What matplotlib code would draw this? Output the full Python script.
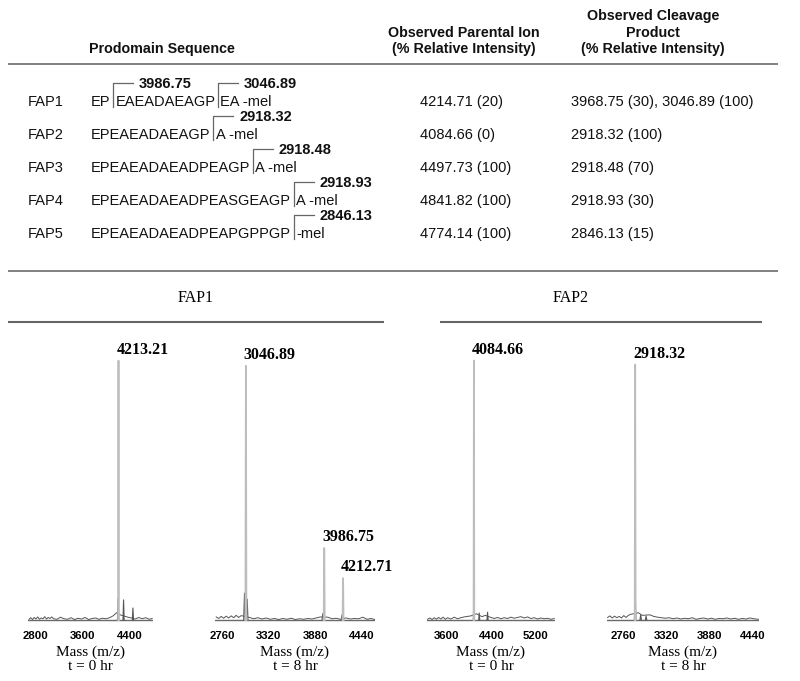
import matplotlib
matplotlib.use('Agg')
import matplotlib.pyplot as plt

W, H = 800, 681
SANS = 'Liberation Sans'
SERIF = 'Liberation Serif'

# ---------------- table data ----------------
row_names = ['FAP1', 'FAP2', 'FAP3', 'FAP4', 'FAP5']
seq_segments = [
    ['EP', 'EAEADAEAGP', 'EA -mel'],
    ['EPEAEADAEAGP', 'A -mel'],
    ['EPEAEADAEADPEAGP', 'A -mel'],
    ['EPEAEADAEADPEASGEAGP', 'A -mel'],
    ['EPEAEADAEADPEAPGPPGP', '-mel'],
]
cut_labels = [
    ['3986.75', '3046.89'],
    ['2918.32'],
    ['2918.48'],
    ['2918.93'],
    ['2846.13'],
]
parental_ion = ['4214.71 (20)', '4084.66 (0)', '4497.73 (100)', '4841.82 (100)', '4774.14 (100)']
cleavage_product = ['3968.75 (30), 3046.89 (100)', '2918.32 (100)', '2918.48 (70)',
                    '2918.93 (30)', '2846.13 (15)']

# ---------------- spectra data ----------------
panel_titles = ['FAP1', 'FAP2']
time_labels = ['t = 0 hr', 't = 8 hr', 't = 0 hr', 't = 8 hr']
xlims = [(2663, 4804), (2676, 4596), (3240, 5544), (2552, 4528)]
xticks = [[2800, 3600, 4400], [2760, 3320, 3880, 4440], [3600, 4400, 5200], [2760, 3320, 3880, 4440]]

# labelled main peaks (m/z, relative intensity)
main_mz = [[4213.21], [3046.89, 3986.75, 4212.71], [4084.66], [2918.32]]
main_int = [[99], [97, 27.5, 16], [99], [97.5]]
main_lbl = [['4213.21'], ['3046.89', '3986.75', '4212.71'], ['4084.66'], ['2918.32']]

# minor peaks near the base
minor_mz = [[4205, 4300, 4460], [3030, 3062, 3970, 4200], [4084, 4180, 4330], [2918, 2990, 3060]]
minor_int = [[8.5, 7.7, 4.6], [10.3, 8.0, 2.5, 2.0], [7.7, 2.7, 3.0], [10.7, 2.0, 1.5]]

# baseline noise
noise_mz = [
    [2680, 2710, 2740, 2770, 2800, 2830, 2860, 2890, 2920, 2950, 2980, 3010, 3040, 3070, 3100,
     3160, 3220, 3280, 3340, 3400, 3460, 3520, 3580, 3640, 3700, 3760, 3820, 3880, 3940, 4000,
     4060, 4120, 4180, 4240, 4330, 4390, 4440, 4500, 4560, 4620, 4680, 4740, 4790],
    [2690, 2720, 2750, 2780, 2810, 2840, 2870, 2900, 2930, 2960, 2990, 3090, 3140, 3190, 3240,
     3290, 3340, 3390, 3440, 3490, 3540, 3590, 3640, 3690, 3740, 3790, 3840, 3890, 3940, 4030,
     4080, 4130, 4180, 4250, 4300, 4350, 4400, 4450, 4500, 4550, 4590],
    [3250, 3290, 3330, 3370, 3410, 3450, 3490, 3530, 3570, 3610, 3670, 3730, 3790, 3850, 3910,
     3970, 4030, 4130, 4230, 4290, 4390, 4450, 4510, 4570, 4630, 4690, 4750, 4810, 4870, 4930,
     4990, 5050, 5110, 5170, 5230, 5290, 5350, 5410, 5470, 5530],
    [2560, 2590, 2620, 2650, 2680, 2710, 2740, 2770, 2800, 2830, 2860, 2960, 3010, 3110, 3160,
     3210, 3260, 3310, 3360, 3410, 3460, 3510, 3560, 3610, 3660, 3710, 3760, 3810, 3860, 3910,
     3960, 4010, 4060, 4110, 4160, 4210, 4260, 4310, 4360, 4410, 4460, 4520],
]
noise_int = [
    [0.3, 0.9, 0.2, 1.0, 0.4, 1.2, 0.3, 0.8, 0.5, 1.3, 0.4, 1.0, 0.6, 1.2, 0.5,
     0.3, 1.1, 0.5, 0.3, 0.9, 0.2, 0.7, 0.4, 1.0, 0.2, 0.6, 0.8, 0.3, 0.7, 0.5,
     0.9, 1.6, 2.8, 2.0, 1.4, 1.0, 0.8, 0.4, 1.0, 0.5, 0.9, 0.3, 0.6],
    [1.2, 0.6, 1.4, 0.7, 1.5, 0.8, 1.6, 0.9, 1.8, 1.0, 1.7, 1.0, 0.5, 0.9, 0.4,
     0.8, 0.3, 0.6, 0.2, 0.6, 0.3, 0.7, 0.2, 0.5, 0.3, 0.6, 0.4, 0.8, 1.2, 1.1,
     0.5, 0.7, 0.3, 0.8, 0.4, 0.6, 0.5, 1.1, 0.3, 0.6, 0.2],
    [0.3, 0.8, 0.2, 0.9, 0.3, 1.0, 0.4, 1.1, 0.3, 0.9, 0.4, 1.1, 0.5, 0.9, 1.2,
     1.4, 1.6, 2.4, 1.3, 1.8, 1.0, 0.6, 1.0, 0.5, 0.9, 0.6, 1.1, 0.7, 1.0, 1.3,
     0.8, 1.2, 0.6, 0.9, 0.4, 0.8, 0.5, 0.7, 0.3, 0.6],
    [1.0, 1.6, 0.8, 1.5, 0.9, 1.4, 0.8, 1.7, 1.0, 1.8, 2.2, 2.8, 1.8, 2.0, 1.4,
     1.1, 0.9, 0.7, 0.9, 0.5, 0.8, 0.4, 0.7, 0.5, 0.9, 0.3, 0.6, 0.8, 0.4, 0.7,
     0.3, 0.6, 0.5, 0.8, 0.4, 0.7, 0.3, 0.6, 0.4, 0.8, 0.5, 0.3],
]

# ---------------- figure ----------------
fig = plt.figure(figsize=(W / 100, H / 100), dpi=100)
tax = fig.add_axes([0, 0, 1, 1])
tax.set_xlim(0, W)
tax.set_ylim(H, 0)
tax.axis('off')

LINE_C = '#808080'

# headers
hdr = dict(family=SANS, fontweight='bold', fontsize=10.3, ha='center', va='center', color='#111111')
tax.text(162, 49, 'Prodomain Sequence', **hdr)
tax.text(464, 33, 'Observed Parental Ion', **hdr)
tax.text(464, 49, '(% Relative Intensity)', **hdr)
tax.text(653, 16, 'Observed Cleavage', **hdr)
tax.text(653, 33, 'Product', **hdr)
tax.text(653, 49, '(% Relative Intensity)', **hdr)
tax.plot([8, 778], [64, 64], color=LINE_C, lw=1.4, solid_capstyle='butt')
tax.plot([8, 778], [271, 271], color=LINE_C, lw=1.4, solid_capstyle='butt')

renderer = fig.canvas.get_renderer()
inv = tax.transData.inverted()


def right_edge(t):
    bb = t.get_window_extent(renderer=renderer)
    return inv.transform((bb.x1, bb.y0))[0]


row_y0 = 101
row_dy = 33
body = dict(family=SANS, fontsize=10.5, color='#111111', va='baseline')
for i, name in enumerate(row_names):
    y = row_y0 + i * row_dy
    base = y + 5
    tax.text(28, base, name, ha='left', **body)
    tax.text(420, base, parental_ion[i], ha='left', **body)
    tax.text(571, base, cleavage_product[i], ha='left', **body)
    x = 91
    segs = seq_segments[i]
    for j, seg in enumerate(segs):
        t = tax.text(x, base, seg, ha='left', **body)
        if j < len(segs) - 1:
            xm = right_edge(t) + 2.5
            tax.plot([xm, xm, xm + 20], [base + 1, y - 18, y - 18], color='#666666', lw=0.9)
            tax.text(xm + 26, y - 13, cut_labels[i][j], ha='left', va='baseline',
                     family=SANS, fontweight='bold', fontsize=10.5, color='#111111')
            x = xm + 2.5

# spectra panel titles
tax.text(196, 298, panel_titles[0], ha='center', va='center', family=SERIF, fontsize=11.5)
tax.text(571, 298, panel_titles[1], ha='center', va='center', family=SERIF, fontsize=11.5)
tax.plot([8, 384], [322, 322], color='#666666', lw=1.5, solid_capstyle='butt')
tax.plot([440, 762], [322, 322], color='#666666', lw=1.5, solid_capstyle='butt')

ax_px = [(28, 153), (215, 375), (427, 555), (607, 759)]
ax_bot, ax_top = 624, 358

for k in range(4):
    x0, x1 = ax_px[k]
    ax = fig.add_axes([x0 / W, (H - ax_bot) / H, (x1 - x0) / W, (ax_bot - ax_top) / H])
    ax.set_xlim(*xlims[k])
    ax.set_ylim(-1.5, 100)
    for s in ax.spines.values():
        s.set_visible(False)
    ax.set_yticks([])
    ax.set_xticks(xticks[k])
    ax.set_xticklabels([str(v) for v in xticks[k]], family=SANS, fontweight='bold', fontsize=8.2)
    ax.tick_params(axis='x', length=0, pad=5)
    ax.patch.set_alpha(0)

    # noise baseline
    ax.plot(xlims[k], [0, 0], color='#6a6a6a', lw=1.0)
    ax.plot(noise_mz[k], noise_int[k], color='#555555', lw=0.7)
    # minor peaks
    for m, v in zip(minor_mz[k], minor_int[k]):
        ax.plot([m - 10, m, m + 10], [0, v, 0], color='#555555', lw=0.8)
    # main peaks
    for m, v, lab in zip(main_mz[k], main_int[k], main_lbl[k]):
        ax.plot([m - 6, m, m + 6], [0, v, 0], color='#bdbdbd', lw=1.3)
        ax.annotate(lab, xy=(m, v), xytext=(-1.5, 5), textcoords='offset points',
                    ha='left', va='baseline', family=SERIF, fontweight='bold', fontsize=11.5,
                    annotation_clip=False)

    xc = (x0 + x1) / 2
    tax.text(xc, 652, 'Mass (m/z)', ha='center', va='center', family=SERIF, fontsize=11)
    tax.text(xc, 667, time_labels[k], ha='center', va='center', family=SERIF, fontsize=11)

fig.savefig('out.png', dpi=100)
